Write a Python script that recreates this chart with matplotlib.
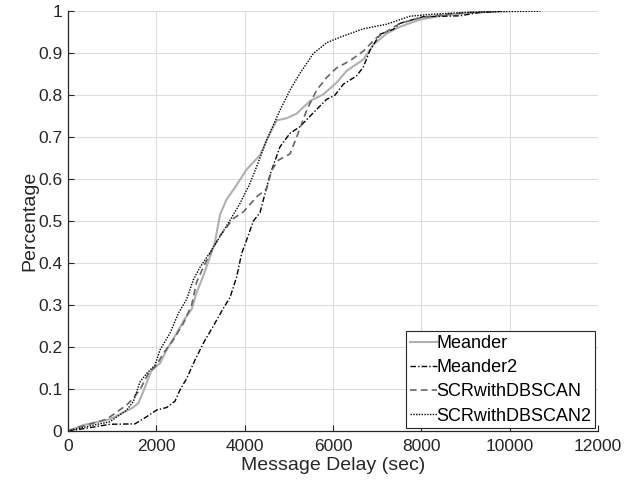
import matplotlib
matplotlib.use("Agg")
import matplotlib.pyplot as plt

plt.rcParams['font.family'] = ['Liberation Sans', 'DejaVu Sans']

# values (delay in sec, cumulative fraction)
meander_x = [0, 347, 951, 1442, 1592, 1705, 1894, 2083, 2234, 2461, 2649, 2800, 2913, 3064,
             3215, 3328, 3441, 3592, 3781, 4045, 4347, 4498, 4724, 4951, 5177, 5479, 5781,
             6083, 6310, 6687, 6913, 7215, 7517, 7970, 8500, 9000, 9500, 9900]
meander_y = [0, 0.014, 0.028, 0.054, 0.066, 0.094, 0.145, 0.161, 0.193, 0.233, 0.268, 0.29,
             0.33, 0.37, 0.415, 0.45, 0.515, 0.552, 0.58, 0.623, 0.657, 0.693, 0.74, 0.745,
             0.756, 0.786, 0.802, 0.83, 0.858, 0.885, 0.92, 0.947, 0.963, 0.98, 0.99, 0.995,
             0.999, 1.0]

meander2_x = [0, 500, 951, 1517, 1781, 2008, 2234, 2423, 2536, 2687, 2875, 3064, 3290, 3516,
              3668, 3819, 3932, 4045, 4195, 4347, 4573, 4800, 5026, 5252, 5554, 5856, 6045,
              6234, 6536, 6687, 6838, 7064, 7366, 7517, 8045, 8875, 9253, 9781]
meander2_y = [0, 0.008, 0.016, 0.017, 0.034, 0.05, 0.056, 0.071, 0.098, 0.125, 0.169, 0.209,
              0.25, 0.292, 0.318, 0.367, 0.423, 0.455, 0.5, 0.52, 0.61, 0.677, 0.709, 0.725,
              0.758, 0.79, 0.8, 0.826, 0.846, 0.867, 0.907, 0.945, 0.957, 0.971, 0.987, 0.989,
              0.996, 1.0]

scr_x = [0, 272, 876, 1329, 1442, 1630, 1818, 2008, 2158, 2385, 2611, 2800, 2913, 3064, 3253,
         3441, 3743, 3970, 4272, 4498, 4611, 4762, 5026, 5177, 5404, 5630, 5856, 6083, 6385,
         6687, 6989, 7517, 8000, 8600, 9200, 9800]
scr_y = [0, 0.01, 0.028, 0.062, 0.074, 0.098, 0.137, 0.157, 0.185, 0.217, 0.256, 0.3, 0.355,
         0.39, 0.43, 0.465, 0.506, 0.522, 0.558, 0.577, 0.621, 0.645, 0.66, 0.70, 0.764, 0.812,
         0.842, 0.865, 0.882, 0.905, 0.937, 0.971, 0.985, 0.993, 0.998, 1.0]

scr2_x = [0, 574, 951, 1329, 1479, 1630, 1781, 1970, 2083, 2309, 2498, 2687, 2837, 2989, 3215,
          3441, 3668, 3894, 4121, 4272, 4498, 4800, 5026, 5252, 5554, 5856, 6234, 6687, 7215,
          7743, 8264, 9000, 9800, 10700]
scr2_y = [0, 0.014, 0.022, 0.05, 0.07, 0.117, 0.137, 0.157, 0.193, 0.233, 0.28, 0.314, 0.36,
          0.39, 0.425, 0.463, 0.502, 0.542, 0.59, 0.63, 0.693, 0.764, 0.812, 0.852, 0.899,
          0.925, 0.941, 0.958, 0.969, 0.988, 0.993, 0.997, 0.999, 1.0]

fig = plt.figure(figsize=(6.39, 4.87), dpi=100)
ax = fig.add_axes([0.1064, 0.115, 0.8294, 0.862])

ax.plot(meander_x, meander_y, color='#b0b0b0', lw=1.5, label='Meander')
ax.plot(meander2_x, meander2_y, color='black', lw=1.0, dashes=(4, 1.5, 1, 1.5), label='Meander2')
ax.plot(scr_x, scr_y, color='#666666', lw=1.2, dashes=(4, 2.5), label='SCRwithDBSCAN')
ax.plot(scr2_x, scr2_y, color='black', lw=1.0, dashes=(1, 1), label='SCRwithDBSCAN2')

ax.set_xlim(0, 12000)
ax.set_ylim(0, 1)
ax.set_xticks(range(0, 12001, 2000))
ax.set_yticks([i / 10 for i in range(11)])
ax.set_yticklabels(['0', '0.1', '0.2', '0.3', '0.4', '0.5', '0.6', '0.7', '0.8', '0.9', '1'])
ax.tick_params(direction='in', labelsize=12.5, length=4, width=0.8, colors='#262626')
ax.tick_params(axis='x', pad=6)
ax.tick_params(axis='y', pad=4)
ax.grid(True, color='#dcdcdc', lw=0.8)
ax.set_axisbelow(True)
for s in ['top', 'right']:
    ax.spines[s].set_visible(False)
for s in ['left', 'bottom']:
    ax.spines[s].set_color('#262626')
    ax.spines[s].set_linewidth(0.9)

ax.set_xlabel('Message Delay (sec)', fontsize=14, color='#262626', labelpad=2)
ax.set_ylabel('Percentage', fontsize=14, color='#262626', labelpad=0)

leg = ax.legend(loc='lower right', fontsize=13, handlelength=1.5, handletextpad=0.0,
                borderpad=0.2, labelspacing=0.4, borderaxespad=0.15, fancybox=False,
                framealpha=1, edgecolor='#262626')
leg.get_frame().set_linewidth(0.8)

fig.savefig('out.png', dpi=100)
